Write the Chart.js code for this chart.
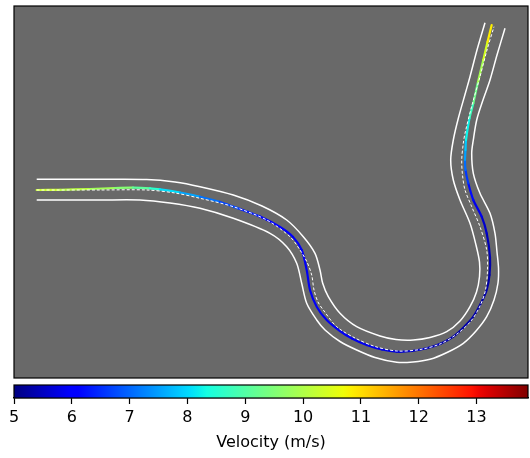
<!DOCTYPE html>
<html>
<head>
<meta charset="utf-8">
<script src="https://cdn.jsdelivr.net/npm/chart.js@4.4.1/dist/chart.umd.min.js"></script>
<style>
  html, body { margin: 0; padding: 0; background: #fff; }
  canvas { display: block; }
</style>
</head>
<body>
<canvas id="track" width="530" height="382"></canvas>
<canvas id="cbar" width="530" height="76"></canvas>
<script>
// track geometry (x, y)
const innerEdge = [
  [22.7,198.7],[86,198.7],[132.7,198.5],[161,196],[186,191.3],[219.3,183],[248,172],
  [272.7,158],[289.3,141.3],[301,124.7],[306,108],[308.7,94.7],[314.3,81.3],[326,64.7],
  [342.7,51.3],[366,42],[382,38.5],[399.3,38],[416,40.5],[432.7,46.3],[446,57],[456,71.3],
  [462.5,86],[465.5,101.3],[465.5,116],[462,133],[456,154.7],[446,178],[439.3,198],
  [436.7,218],[439.3,238],[444.4,260],[451.7,286],[456,301.3],[463,328],[471,355.3]
];
const outerEdge = [
  [22.7,178],[86,178],[126,178],[156,175],[186,169.7],[219.3,159.7],[256,144.7],
  [272.7,131.3],[282.7,114.7],[287.7,94.7],[292.7,74.7],[302.7,58],[311,48],[326,36.5],
  [342.7,28],[361,20.5],[382.7,15.7],[399,16],[416,18.7],[433,25.5],[449.3,34.7],[462,47],
  [472.7,61.3],[480,78],[484,95],[484.5,110],[483,126],[481,144.7],[476,164.7],[466,184.7],
  [459.3,204.7],[457.7,224.7],[459.3,238],[462.7,258],[469,278],[476,298],[483,323],[491,349.7]
];
const centerLine = [
  [22.7,188],[86,188],[132.7,188],[161,185],[186,179.7],[219.3,171.3],[252.7,158],
  [276,141.3],[286,128],[293,116],[297.7,103],[300,88],[304,76],[309.3,68],[322.7,51.3],
  [341,40],[361,31.5],[383,27],[406,28.5],[426,34],[443,44],[457,57],[466,72],[471.5,88],
  [473.5,108],[472.7,128],[466,151.3],[457.7,171.3],[451,188],[448.5,203],[447.7,218],
  [449.3,234.7],[451,244.7],[458,273],[466,301.3],[473,328],[480,351.3]
];
const racingLine = [
  [22.7,188],[46,188.2],[76,189],[101,190],[119,190.3],[136,189.7],[146,188.7],[166,185.5],
  [186,181.3],[206,176],[226,169],[246,161.5],[266,151],[279,141],[287.7,128],[292.7,108],
  [296,88],[302.7,71.3],[312.7,58],[326,47],[338,39.5],[352.7,33],[368,28.5],[382.7,26.3],
  [398,27],[412.7,29.7],[427,34.5],[439.3,41.3],[450,51],[459.3,61.3],[467,75],[472.7,88],
  [475.5,103],[476,121],[472.7,144.7],[467.7,161.3],[459.3,178],[454.3,194.7],[451.5,208],
  [451,218],[451.5,228],[452,238],[455.5,260],[459.3,274.7],[464,296],[469.3,318],
  [473.5,336],[477.7,353]
];
// velocity (m/s) at each racing line point
const speed = [
  10.4,10.2,10.0,9.7,9.4,8.8,8.3,7.8,
  7.3,6.9,6.5,6.2,6.0,5.95,5.9,5.9,
  5.9,5.9,5.9,5.9,5.9,5.8,5.8,5.7,
  5.6,5.5,5.4,5.3,5.3,5.3,5.3,5.3,
  5.3,5.35,5.5,5.7,6.0,6.4,6.8,
  7.3,7.7,8.0,8.5,9.0,9.6,10.2,
  10.6,11.1
];
const speedMin = 5, speedMax = 13.89;
const cbTicks = [5, 6, 7, 8, 9, 10, 11, 12, 13];

Chart.defaults.font.family = "'DejaVu Sans', sans-serif";
Chart.defaults.font.size = 16;

// matplotlib jet
function lerpTable(t, xs, ys) {
  for (let i = 1; i < xs.length; i++) {
    if (t <= xs[i]) return ys[i-1] + (ys[i]-ys[i-1]) * (t-xs[i-1]) / (xs[i]-xs[i-1]);
  }
  return ys[ys.length-1];
}
function jet(v) {
  let t = (v - speedMin) / (speedMax - speedMin);
  t = Math.max(0, Math.min(1, t));
  const r = lerpTable(t, [0,0.35,0.66,0.89,1], [0,0,1,1,0.5]);
  const g = lerpTable(t, [0,0.125,0.375,0.64,0.91,1], [0,0,1,1,0,0]);
  const b = lerpTable(t, [0,0.11,0.34,0.65,1], [0.5,1,1,0,0]);
  return 'rgb(' + Math.round(r*255) + ',' + Math.round(g*255) + ',' + Math.round(b*255) + ')';
}

const pts = arr => arr.map(([x, y]) => ({x, y}));

const frame = {
  id: 'frame',
  beforeDraw(chart) {
    const {ctx, chartArea: a} = chart;
    ctx.save();
    ctx.fillStyle = '#696969';
    ctx.fillRect(a.left, a.top, a.right - a.left, a.bottom - a.top);
    ctx.restore();
  },
  afterDraw(chart) {
    const {ctx, chartArea: a} = chart;
    ctx.save();
    ctx.strokeStyle = '#000';
    ctx.lineWidth = 1.2;
    ctx.strokeRect(a.left, a.top, a.right - a.left, a.bottom - a.top);
    ctx.restore();
  }
};

new Chart(document.getElementById('track'), {
  type: 'scatter',
  data: {
    datasets: [
      {data: pts(innerEdge), showLine: true, borderColor: '#fff', borderWidth: 1.5, pointRadius: 0, tension: 0.3, order: 2},
      {data: pts(outerEdge), showLine: true, borderColor: '#fff', borderWidth: 1.5, pointRadius: 0, tension: 0.3, order: 2},
      {data: pts(racingLine), showLine: true, borderWidth: 2.2, pointRadius: 0, tension: 0.3, order: 1,
       borderCapStyle: 'round', borderJoinStyle: 'round',
       segment: {borderColor: c => jet((speed[c.p0DataIndex] + speed[c.p1DataIndex]) / 2)}},
      {data: pts(centerLine), showLine: true, borderColor: '#fff', borderWidth: 1, borderDash: [3, 2],
       pointRadius: 0, tension: 0.3, order: 0}
    ]
  },
  options: {
    responsive: false,
    animation: false,
    layout: {padding: {left: 14, top: 6, right: 2, bottom: 4}},
    plugins: {legend: {display: false}, tooltip: {enabled: false}},
    scales: {
      x: {type: 'linear', min: 0, max: 514, display: false},
      y: {type: 'linear', min: 0, max: 372, display: false}
    }
  },
  plugins: [frame]
});

const gradientBar = {
  id: 'gradientBar',
  beforeDatasetsDraw(chart) {
    const {ctx, chartArea: a} = chart;
    const g = ctx.createLinearGradient(a.left, 0, a.right, 0);
    for (let i = 0; i <= 64; i++) {
      g.addColorStop(i / 64, jet(speedMin + (speedMax - speedMin) * i / 64));
    }
    ctx.save();
    ctx.fillStyle = g;
    ctx.fillRect(a.left, a.top, a.right - a.left, a.bottom - a.top);
    ctx.strokeStyle = '#000';
    ctx.lineWidth = 1.2;
    ctx.strokeRect(a.left, a.top, a.right - a.left, a.bottom - a.top);
    ctx.restore();
  }
};

new Chart(document.getElementById('cbar'), {
  type: 'scatter',
  data: {datasets: []},
  options: {
    responsive: false,
    animation: false,
    layout: {padding: {left: 14, top: 3, right: 2, bottom: 0}},
    plugins: {legend: {display: false}, tooltip: {enabled: false}},
    scales: {
      x: {
        type: 'linear', position: 'bottom', min: speedMin, max: speedMax,
        grid: {drawOnChartArea: false, tickLength: 6, tickColor: '#000', tickWidth: 1.2},
        border: {display: true, color: '#000', width: 1.2},
        ticks: {color: '#000', padding: 4, maxRotation: 0},
        title: {display: true, text: 'Velocity (m/s)', color: '#000', padding: {top: 0, bottom: 6}},
        afterBuildTicks: s => { s.ticks = cbTicks.map(v => ({value: v})); },
        afterFit: s => { s.height = 60; s.paddingLeft = 0; s.paddingRight = 0; }
      },
      y: {type: 'linear', min: 0, max: 1, display: false}
    }
  },
  plugins: [gradientBar]
});
</script>
</body>
</html>
